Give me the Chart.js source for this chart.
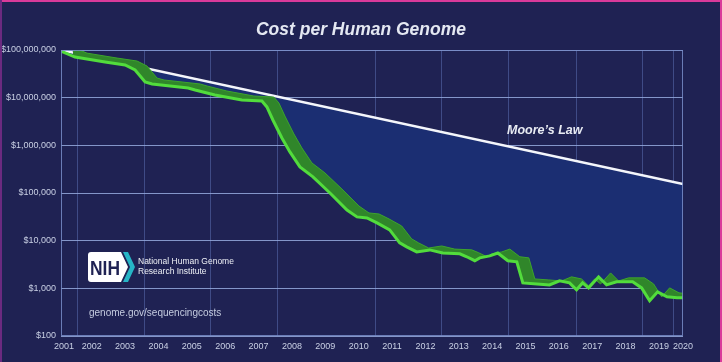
<!DOCTYPE html>
<html>
<head>
<meta charset="utf-8">
<script src="https://cdn.jsdelivr.net/npm/chart.js@4/dist/chart.umd.min.js"></script>
<style>
  html, body { margin: 0; padding: 0; background: #1f2253; }
  #wrap { position: relative; width: 722px; height: 362px; overflow: hidden; background: #1f2253; }
  #wrap canvas { position: absolute; left: 0; top: 0; }
  .edge { position: absolute; }
  .txt { position: absolute; white-space: nowrap; font-family: "Liberation Sans", Arial, sans-serif; }
  #title { left: 0; width: 722px; top: 19px; text-align: center; font-size: 17.5px; font-weight: bold; font-style: italic; color: #e4e8f2; }
  #moore { left: 507px; top: 123px; font-size: 12.5px; font-weight: bold; font-style: italic; color: #e8ebf3; }
  #nih1, #nih2 { left: 138px; font-size: 8.5px; color: #eef0f6; }
  #nih1 { top: 256px; }
  #nih2 { top: 266px; }
  #url { left: 89px; top: 307px; font-size: 10px; color: #c5cce0; }
  #logo { position: absolute; left: 86px; top: 250px; }
</style>
</head>
<body>
<div id="wrap">
  <canvas id="chart" width="722" height="362"></canvas>
  <div class="txt" id="title">Cost per Human Genome</div>
  <div class="txt" id="moore">Moore’s Law</div>
  <svg id="logo" width="52" height="34" viewBox="0 0 52 34">
    <path d="M5,2 H35 L42,17 L35,32 H5 Q2,32 2,29 V5 Q2,2 5,2 Z" fill="#ffffff"/>
    <polygon points="37,2 42,2 49,17 42,32 37,32 44,17" fill="#26b5c6"/>
    <text x="19" y="25" font-family="Liberation Sans, Arial, sans-serif" font-weight="bold" font-size="21" fill="#1f2253" text-anchor="middle" textLength="30" lengthAdjust="spacingAndGlyphs">NIH</text>
  </svg>
  <div class="txt" id="nih1">National Human Genome</div>
  <div class="txt" id="nih2">Research Institute</div>
  <div class="txt" id="url">genome.gov/sequencingcosts</div>
  <div class="edge" style="left:0;top:0;width:722px;height:2px;background:#d93a9a"></div>
  <div class="edge" style="left:720px;top:0;width:2px;height:362px;background:#d93a9a"></div>
  <div class="edge" style="left:0;top:0;width:2px;height:362px;background:#6b2a80"></div>
</div>
<script>
// cost per genome (decimal year, US$)
const costYears = [2001.58, 2002.00, 2002.90, 2003.50, 2003.80, 2004.10, 2004.31, 2005.39, 2005.60, 2006.19,
  2007.00, 2007.60, 2007.75, 2007.93, 2008.20, 2008.44, 2008.74, 2009.13, 2009.64, 2010.15,
  2010.45, 2010.75, 2011.05, 2011.43, 2011.73, 2011.94, 2012.24, 2012.63, 2013.02, 2013.53,
  2013.74, 2013.98, 2014.13, 2014.43, 2014.67, 2014.97, 2015.24, 2015.42, 2015.84, 2016.22,
  2016.52, 2016.82, 2017.03, 2017.21, 2017.39, 2017.69, 2017.93, 2018.23, 2018.71, 2018.98,
  2019.22, 2019.46, 2019.74, 2020.04, 2020.22];
const costValues = [95000000, 71000000, 56000000, 48500000, 38000000, 21300000, 19400000, 16000000, 14500000, 11400000,
  8950000, 8500000, 6400000, 3400000, 1430000, 728000, 353000, 218000, 100000, 44000,
  31500, 30000, 23600, 16800, 9000, 7400, 5800, 6400, 5500, 5300,
  4600, 3800, 4360, 4800, 5500, 3800, 3600, 1300, 1240, 1180,
  1440, 1300, 930, 1300, 1020, 1740, 1180, 1370, 1370, 1020,
  547, 845, 664, 633, 633];

// Moore's law reference line
const mooreYears = [2001.58, 2020.22];
const mooreValues = [100000000, 155000];

// axis labels and grid
const yearLabels = ['2001', '2002', '2003', '2004', '2005', '2006', '2007', '2008', '2009', '2010',
  '2011', '2012', '2013', '2014', '2015', '2016', '2017', '2018', '2019', '2020'];
const yearTicks = [2001.67, 2002.5, 2003.5, 2004.5, 2005.5, 2006.5, 2007.5, 2008.5, 2009.5, 2010.5,
  2011.5, 2012.5, 2013.5, 2014.5, 2015.5, 2016.5, 2017.5, 2018.5, 2019.5, 2020.22];
const gridYears = [2002.06, 2004.07, 2006.07, 2008.08, 2011.01, 2012.99, 2014.99, 2017.03, 2019.0, 2019.94];
const costTicks = [100, 1000, 10000, 100000, 1000000, 10000000, 100000000];

// 3D ribbon look: back edge is the same curve nudged right and up
const ribbonShift = 0.36;
const ribbonLift = 1.21;

const tickFont = { family: '"Liberation Sans", Arial, sans-serif', size: 9 };
const xMin = 2001.58, xMax = 2020.22;

const frame = {
  id: 'frame',
  afterDatasetsDraw(chart) {
    const a = chart.chartArea, ctx = chart.ctx;
    ctx.save();
    ctx.strokeStyle = 'rgba(120,140,200,0.85)';
    ctx.lineWidth = 1;
    ctx.strokeRect(a.left + 0.5, a.top + 0.5, a.right - a.left - 1, a.bottom - a.top - 1);
    ctx.restore();
  }
};

const ctx = document.getElementById('chart').getContext('2d');
new Chart(ctx, {
  type: 'line',
  data: {
    datasets: [{
      label: 'Cost per Genome',
      data: costYears.map((x, i) => ({ x: x, y: costValues[i] })),
      borderColor: '#52dc3c',
      borderWidth: 3,
      pointRadius: 0,
      fill: false,
      order: 0
    }, {
      label: 'ribbon',
      data: costYears.map((x, i) => ({ x: x + ribbonShift, y: costValues[i] * ribbonLift })),
      borderColor: '#3da42c',
      borderWidth: 1,
      pointRadius: 0,
      backgroundColor: '#30862a',
      fill: { target: 0 },
      order: 1
    }, {
      label: "Moore's Law",
      data: mooreYears.map((x, i) => ({ x: x, y: mooreValues[i] })),
      borderColor: '#f4f6fb',
      borderWidth: 2.5,
      pointRadius: 0,
      fill: { target: 0, above: '#1b2e72', below: 'rgba(0,0,0,0)' },
      order: 2
    }]
  },
  options: {
    responsive: false,
    animation: false,
    layout: { padding: { top: 50, right: 39, left: 0, bottom: 0 } },
    plugins: { legend: { display: false }, tooltip: { enabled: false } },
    scales: {
      x: {
        type: 'linear',
        min: xMin,
        max: xMax,
        afterBuildTicks: s => { s.ticks = yearTicks.map(v => ({ value: v })); },
        afterFit: s => { s.height = 26; },
        ticks: {
          autoSkip: false, maxRotation: 0, color: '#c9d0e4', font: tickFont, padding: 5,
          callback: (v, i) => yearLabels[i]
        },
        grid: { display: false, drawTicks: false },
        border: { display: false }
      },
      xg: {
        type: 'linear',
        position: 'top',
        min: xMin,
        max: xMax,
        afterBuildTicks: s => { s.ticks = gridYears.map(v => ({ value: v })); },
        afterFit: s => { s.height = 0; },
        ticks: { display: false },
        grid: { color: 'rgba(95,115,185,0.5)', lineWidth: 1, drawTicks: false },
        border: { display: false }
      },
      y: {
        type: 'logarithmic',
        min: 100,
        max: 100000000,
        afterBuildTicks: s => { s.ticks = costTicks.map(v => ({ value: v })); },
        afterFit: s => { s.width = 61; },
        ticks: {
          color: '#c9d0e4', font: tickFont, padding: 5,
          callback: v => '$' + Number(v).toLocaleString('en-US')
        },
        grid: { color: 'rgba(150,170,222,0.85)', lineWidth: 1, drawTicks: false },
        border: { display: false }
      }
    }
  },
  plugins: [frame]
});
</script>
</body>
</html>
